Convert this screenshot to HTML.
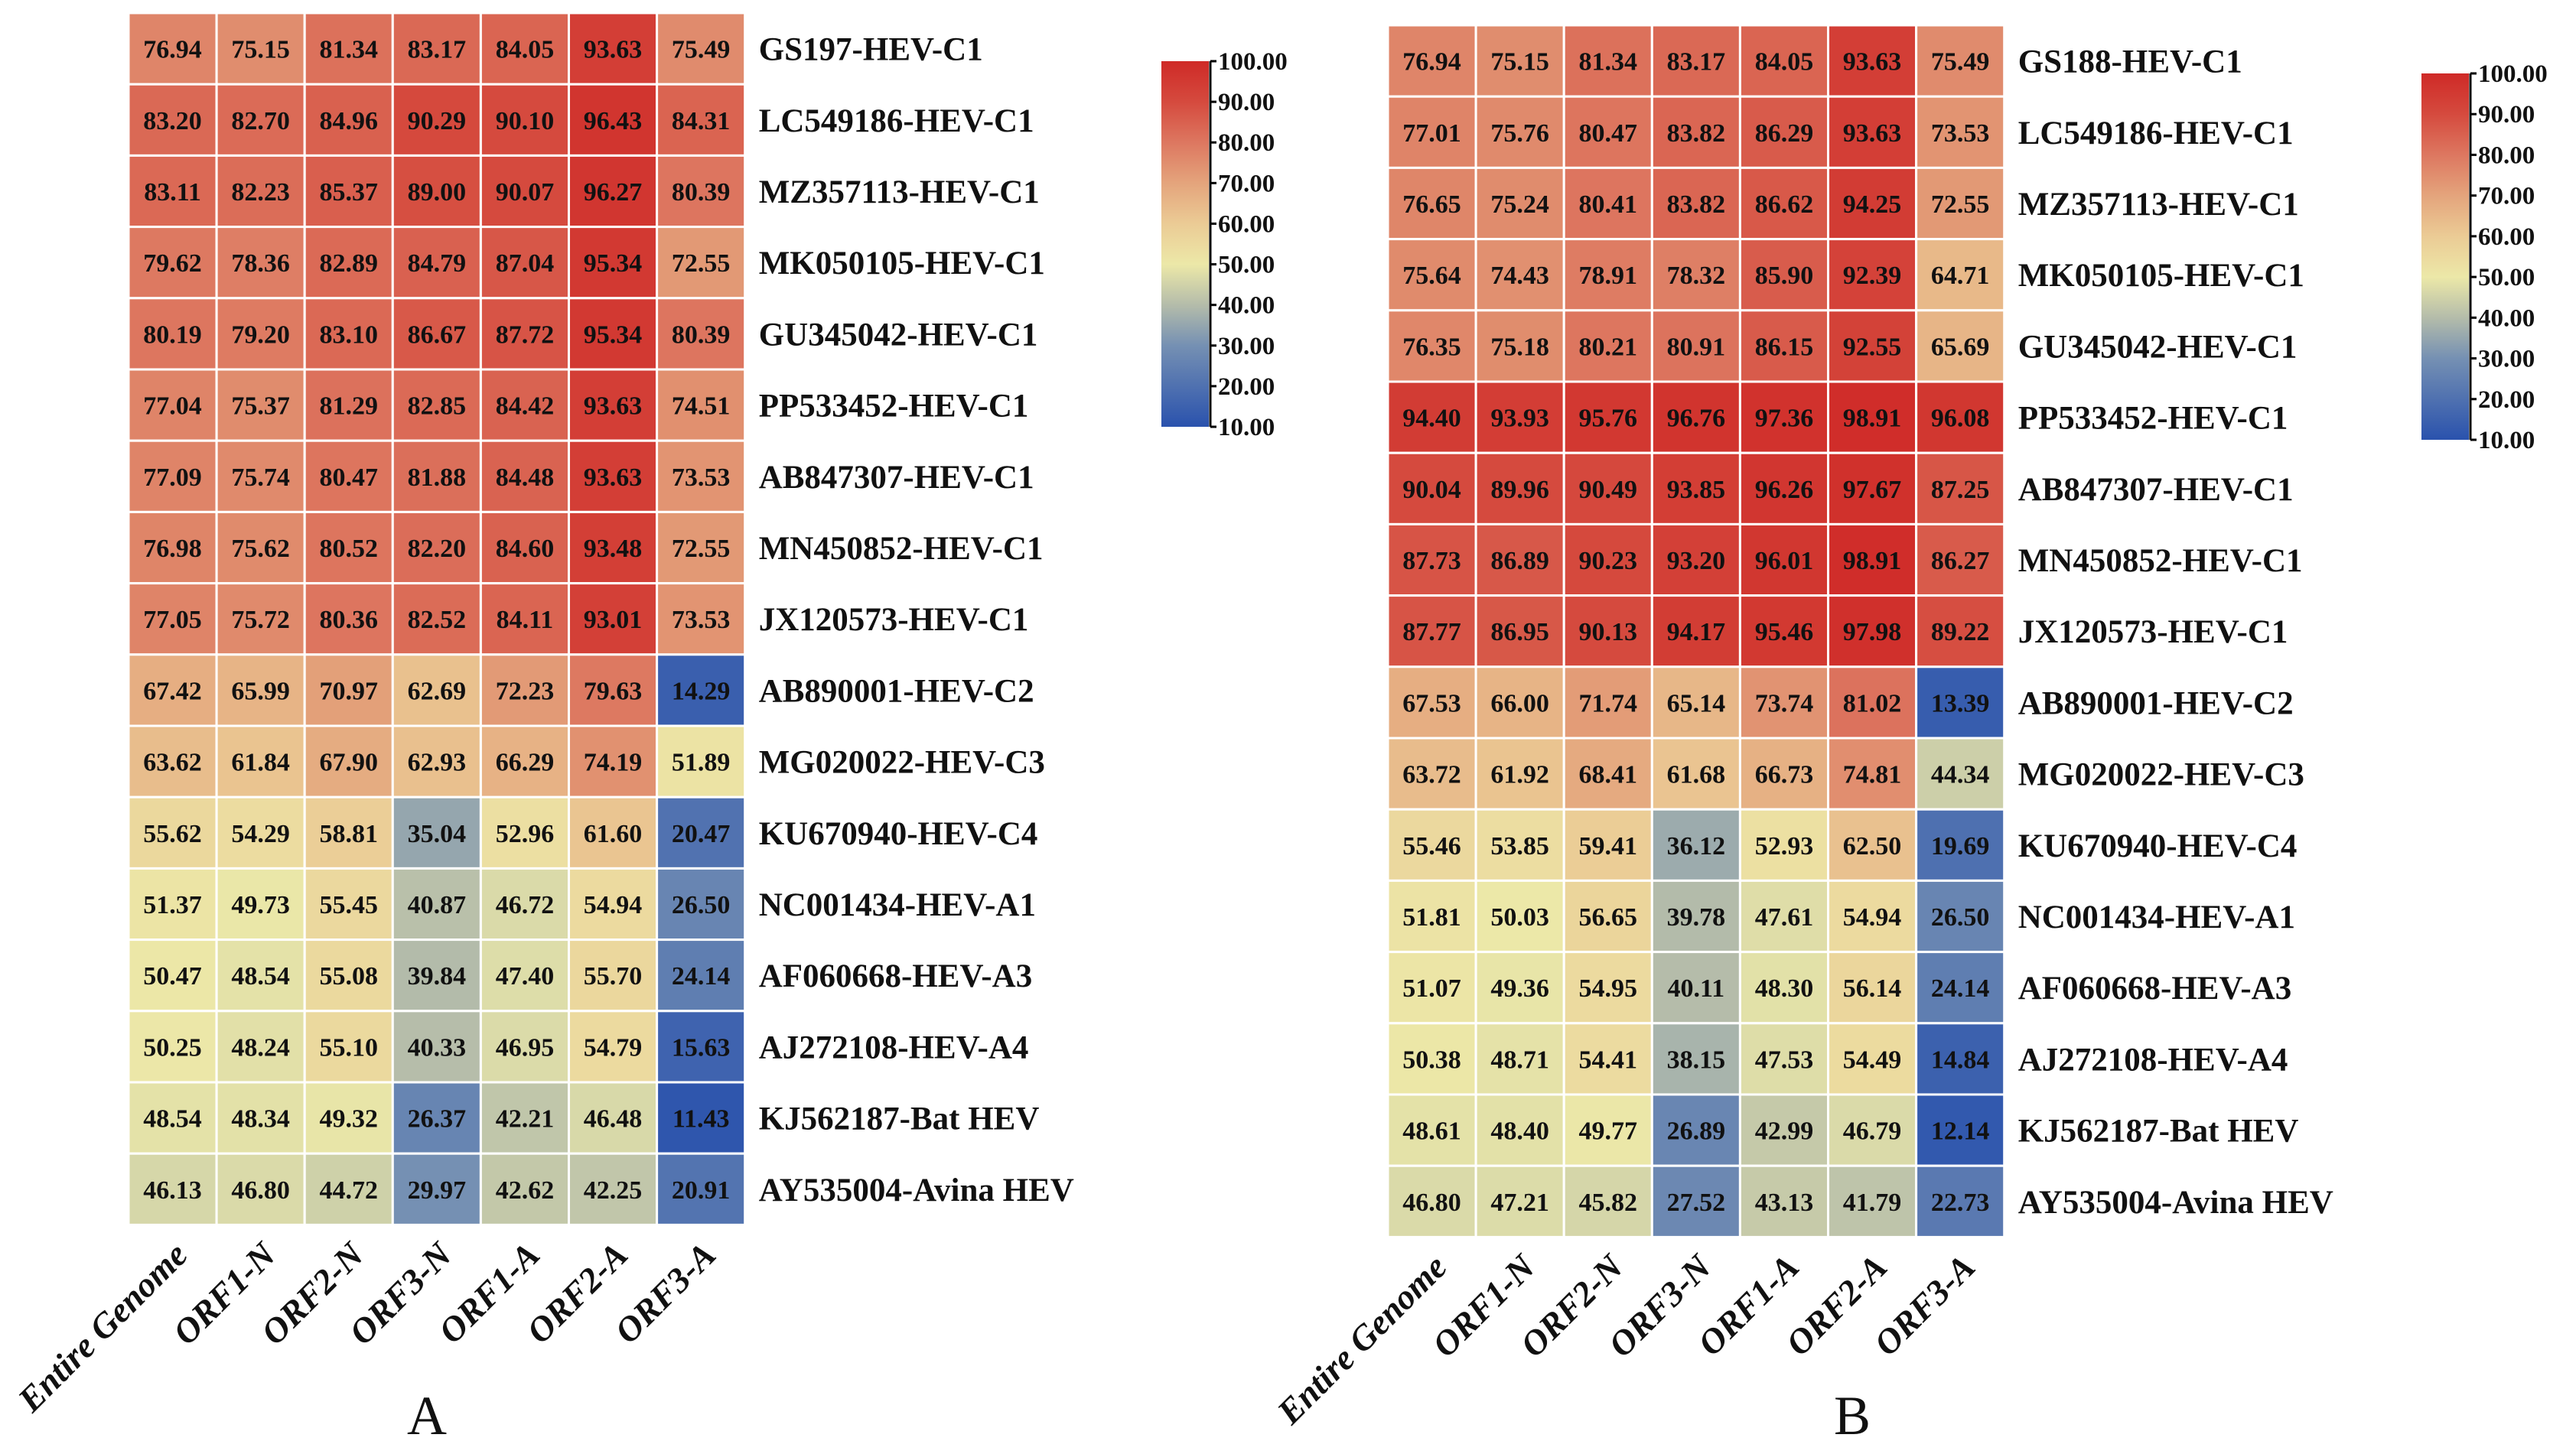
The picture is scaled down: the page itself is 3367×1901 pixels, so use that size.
<!DOCTYPE html>
<html><head><meta charset="utf-8"><style>
html,body{margin:0;padding:0;background:#fff;}
svg{display:block;font-family:"Liberation Serif",serif;}
</style></head><body>
<svg id="fig" width="3367" height="1901" viewBox="0 0 3367 1901" xmlns="http://www.w3.org/2000/svg">
<defs>
<linearGradient id="cbgrad" x1="0" y1="1" x2="0" y2="0">
<stop offset="0" stop-color="#2a52ad"/><stop offset="0.222" stop-color="#7590b3"/><stop offset="0.333" stop-color="#b4bcaa"/><stop offset="0.444" stop-color="#ece8a8"/><stop offset="0.556" stop-color="#ebcb95"/><stop offset="0.667" stop-color="#e4a47c"/><stop offset="0.778" stop-color="#dd7760"/><stop offset="0.889" stop-color="#d54a3e"/><stop offset="1" stop-color="#cf2a27"/>
</linearGradient>
</defs>
</svg>
<script>
const columns = ["Entire Genome","ORF1-N","ORF2-N","ORF3-N","ORF1-A","ORF2-A","ORF3-A"];
const rowsA = ["GS197-HEV-C1","LC549186-HEV-C1","MZ357113-HEV-C1","MK050105-HEV-C1","GU345042-HEV-C1","PP533452-HEV-C1","AB847307-HEV-C1","MN450852-HEV-C1","JX120573-HEV-C1","AB890001-HEV-C2","MG020022-HEV-C3","KU670940-HEV-C4","NC001434-HEV-A1","AF060668-HEV-A3","AJ272108-HEV-A4","KJ562187-Bat HEV","AY535004-Avina HEV"];
const rowsB = ["GS188-HEV-C1","LC549186-HEV-C1","MZ357113-HEV-C1","MK050105-HEV-C1","GU345042-HEV-C1","PP533452-HEV-C1","AB847307-HEV-C1","MN450852-HEV-C1","JX120573-HEV-C1","AB890001-HEV-C2","MG020022-HEV-C3","KU670940-HEV-C4","NC001434-HEV-A1","AF060668-HEV-A3","AJ272108-HEV-A4","KJ562187-Bat HEV","AY535004-Avina HEV"];
const valuesA = [
[76.94,75.15,81.34,83.17,84.05,93.63,75.49],
[83.20,82.70,84.96,90.29,90.10,96.43,84.31],
[83.11,82.23,85.37,89.00,90.07,96.27,80.39],
[79.62,78.36,82.89,84.79,87.04,95.34,72.55],
[80.19,79.20,83.10,86.67,87.72,95.34,80.39],
[77.04,75.37,81.29,82.85,84.42,93.63,74.51],
[77.09,75.74,80.47,81.88,84.48,93.63,73.53],
[76.98,75.62,80.52,82.20,84.60,93.48,72.55],
[77.05,75.72,80.36,82.52,84.11,93.01,73.53],
[67.42,65.99,70.97,62.69,72.23,79.63,14.29],
[63.62,61.84,67.90,62.93,66.29,74.19,51.89],
[55.62,54.29,58.81,35.04,52.96,61.60,20.47],
[51.37,49.73,55.45,40.87,46.72,54.94,26.50],
[50.47,48.54,55.08,39.84,47.40,55.70,24.14],
[50.25,48.24,55.10,40.33,46.95,54.79,15.63],
[48.54,48.34,49.32,26.37,42.21,46.48,11.43],
[46.13,46.80,44.72,29.97,42.62,42.25,20.91]];
const valuesB = [
[76.94,75.15,81.34,83.17,84.05,93.63,75.49],
[77.01,75.76,80.47,83.82,86.29,93.63,73.53],
[76.65,75.24,80.41,83.82,86.62,94.25,72.55],
[75.64,74.43,78.91,78.32,85.90,92.39,64.71],
[76.35,75.18,80.21,80.91,86.15,92.55,65.69],
[94.40,93.93,95.76,96.76,97.36,98.91,96.08],
[90.04,89.96,90.49,93.85,96.26,97.67,87.25],
[87.73,86.89,90.23,93.20,96.01,98.91,86.27],
[87.77,86.95,90.13,94.17,95.46,97.98,89.22],
[67.53,66.00,71.74,65.14,73.74,81.02,13.39],
[63.72,61.92,68.41,61.68,66.73,74.81,44.34],
[55.46,53.85,59.41,36.12,52.93,62.50,19.69],
[51.81,50.03,56.65,39.78,47.61,54.94,26.50],
[51.07,49.36,54.95,40.11,48.30,56.14,24.14],
[50.38,48.71,54.41,38.15,47.53,54.49,14.84],
[48.61,48.40,49.77,26.89,42.99,46.79,12.14],
[46.80,47.21,45.82,27.52,43.13,41.79,22.73]];
const cbTicks = [100,90,80,70,60,50,40,30,20,10];

const NS="http://www.w3.org/2000/svg";
const svg=document.getElementById('fig');
const stops=[[10,[42,82,173]],[30,[117,144,179]],[40,[180,188,170]],[50,[236,232,168]],[60,[235,203,149]],[70,[228,164,124]],[80,[221,119,96]],[90,[213,74,62]],[100,[207,42,39]]];
function color(v){
  v=Math.max(10,Math.min(100,v));
  for(let i=0;i<stops.length-1;i++){const a=stops[i],b=stops[i+1];
    if(v<=b[0]){const t=(v-a[0])/(b[0]-a[0]);return 'rgb('+a[1].map((c,k)=>Math.round(c+(b[1][k]-c)*t)).join(',')+')';}}
  return 'rgb(207,42,39)';
}
function el(tag,attrs,parent){const e=document.createElementNS(NS,tag);for(const k in attrs)e.setAttribute(k,attrs[k]);(parent||svg).appendChild(e);return e;}

function panel(id,x0,y0,rows,vals,cbx,cby0,cby1,letter,letterX){
  const cw=115.1,rh=93.2;
  const g=el('g',{});
  
  
  vals.forEach((row,i)=>{row.forEach((v,j)=>{
    const r=el('rect',{x:x0+j*cw,y:y0+i*rh,width:cw,height:rh,fill:color(v),stroke:'#fff','stroke-width':3},g);
    
    
    const t=el('text',{x:x0+j*cw+cw/2,y:y0+i*rh+rh/2+12,'text-anchor':'middle','font-size':34,'font-weight':'bold',fill:'#111'},g);
    t.textContent=v.toFixed(2);
    
    
  });});
  rows.forEach((n,i)=>{
    const t=el('text',{x:x0+7*cw+18,y:y0+i*rh+rh/2+15,'font-size':43,'font-weight':'bold',fill:'#111'},g);
    t.textContent=n;
    
    
  });
  columns.forEach((c,j)=>{
    const cx=x0+j*cw+cw/2+22, cy=y0+rows.length*rh+42;
    const t=el('text',{x:cx,y:cy,'text-anchor':'end','font-size':46,'font-weight':'bold','font-style':'italic',fill:'#111',transform:'rotate(-45 '+cx+' '+cy+')'},g);
    t.textContent=c;
    
    
  });
  const cb=el('rect',{x:cbx,y:cby0,width:62,height:cby1-cby0,fill:'url(#cbgrad)'},g);
  
  
  el('line',{x1:cbx+64,y1:cby0,x2:cbx+64,y2:cby1,stroke:'#000','stroke-width':3},g);
  cbTicks.forEach(v=>{
    const y=cby1-(v-10)/90*(cby1-cby0);
    el('line',{x1:cbx+64,y1:y,x2:cbx+72,y2:y,stroke:'#000','stroke-width':3},g);
    const t=el('text',{x:cbx+74,y:y+11,'font-size':33,'font-weight':'bold',fill:'#111'},g);
    t.textContent=v.toFixed(2);
    
    
  });
  const L=el('text',{x:letterX,y:1875,'text-anchor':'middle','font-size':72,fill:'#111'},g);
  L.textContent=letter;
  
  
}
panel('a',168,17,rowsA,valuesA,1518,80,558,'A',558);
panel('b',1814,33,rowsB,valuesB,3165,96,575,'B',2421);
</script>
</body></html>
